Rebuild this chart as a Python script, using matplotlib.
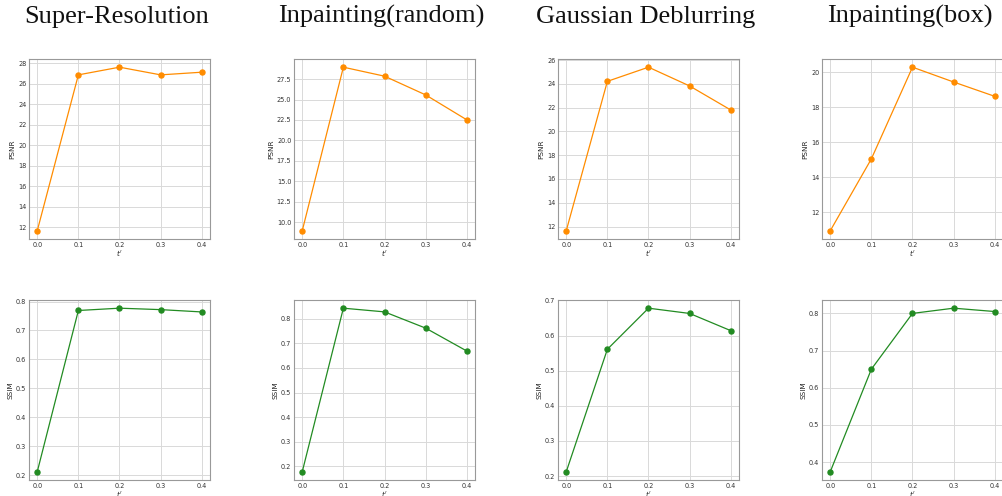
import matplotlib
matplotlib.use("Agg")
import matplotlib.pyplot as plt

t_values = [0.0, 0.1, 0.2, 0.3, 0.4]
titles = ["Super-Resolution", "Inpainting(random)", "Gaussian Deblurring", "Inpainting(box)"]

psnr_sr = [11.64, 26.86, 27.61, 26.86, 27.12]
psnr_random = [8.94, 28.96, 27.86, 25.57, 22.52]
psnr_deblur = [11.64, 24.21, 25.40, 23.82, 21.80]
psnr_box = [10.93, 15.05, 20.30, 19.45, 18.63]

ssim_sr = [0.2115, 0.769, 0.777, 0.772, 0.764]
ssim_random = [0.178, 0.843, 0.828, 0.762, 0.669]
ssim_deblur = [0.212, 0.561, 0.678, 0.663, 0.614]
ssim_box = [0.374, 0.650, 0.800, 0.814, 0.805]

psnr_all = [psnr_sr, psnr_random, psnr_deblur, psnr_box]
ssim_all = [ssim_sr, ssim_random, ssim_deblur, ssim_box]

W, H = 1003, 496
fig = plt.figure(figsize=(W / 100, H / 100), dpi=100)
fig.patch.set_facecolor("white")

lefts = [29, 294, 558, 822]
aw, ah = 181, 180
top_row_top = 59
bot_row_top = 300


def style(ax, ylabel):
    ax.grid(True, color="#d9d9d9", linewidth=0.7)
    ax.set_axisbelow(True)
    for s in ax.spines.values():
        s.set_color("#999999")
        s.set_linewidth(0.8)
    ax.tick_params(length=0, labelsize=4.7, labelcolor="#333333", pad=2)
    ax.set_xticks(t_values)
    ax.set_ylabel(ylabel, fontsize=5.2, color="#222222", labelpad=2)
    ax.set_xlabel("$t'$", fontsize=5.2, color="#222222", labelpad=0.5)


for i in range(4):
    ax1 = fig.add_axes([lefts[i] / W, 1 - (top_row_top + ah) / H, aw / W, ah / H])
    ax1.plot(t_values, psnr_all[i], color="darkorange", marker="o", markersize=3.6, linewidth=0.9)
    style(ax1, "PSNR")

    ax2 = fig.add_axes([lefts[i] / W, 1 - (bot_row_top + ah) / H, aw / W, ah / H])
    ax2.plot(t_values, ssim_all[i], color="forestgreen", marker="o", markersize=3.6, linewidth=0.9)
    style(ax2, "SSIM")

    fig.text((lefts[i] + aw / 2) / W - 3 / W, 1 - 23 / H, titles[i], ha="center", va="baseline",
             fontsize=19, family="Liberation Serif", color="#111111")

fig.savefig("out.png", dpi=100, facecolor="white")
